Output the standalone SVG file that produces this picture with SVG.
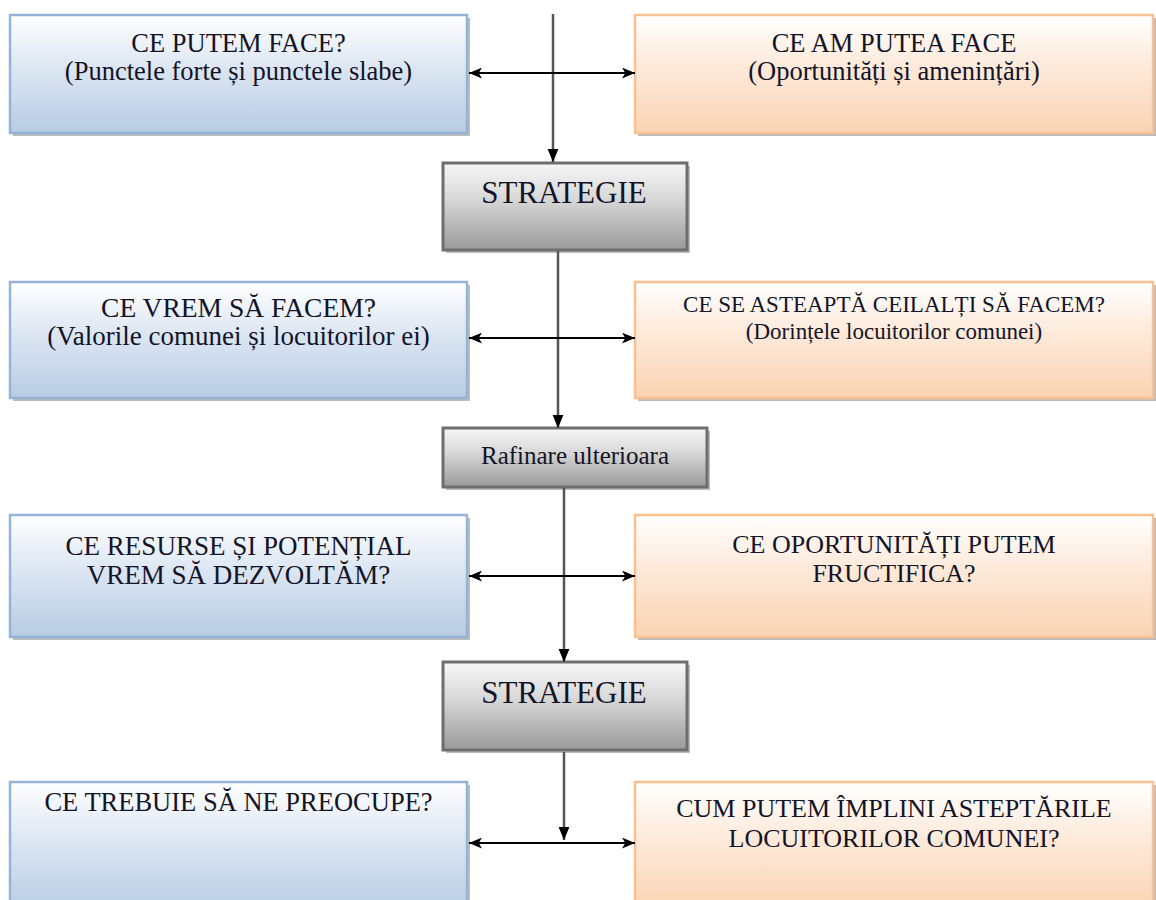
<svg xmlns="http://www.w3.org/2000/svg" width="1156" height="900" viewBox="0 0 1156 900">
<defs>
<linearGradient id="gBlue" x1="0" y1="0" x2="0" y2="1">
<stop offset="0" stop-color="#ffffff"/><stop offset="0.45" stop-color="#dce6f2"/><stop offset="1" stop-color="#b8cce4"/>
</linearGradient>
<linearGradient id="gOrange" x1="0" y1="0" x2="0" y2="1">
<stop offset="0" stop-color="#ffffff"/><stop offset="0.45" stop-color="#fde9d9"/><stop offset="1" stop-color="#fad3b3"/>
</linearGradient>
<linearGradient id="gGray" x1="0" y1="0" x2="0" y2="1">
<stop offset="0" stop-color="#f7f7f7"/><stop offset="0.4" stop-color="#d9d9d9"/><stop offset="1" stop-color="#9a9a9a"/>
</linearGradient>
<marker id="ah" viewBox="0 0 12 10" refX="12" refY="5" markerWidth="13" markerHeight="11" markerUnits="userSpaceOnUse" orient="auto-start-reverse">
<path d="M0,0 L12,5 L0,10 L3,5 Z" fill="#000"/>
</marker>
<marker id="ad" viewBox="0 0 12 10" refX="12" refY="5" markerWidth="13" markerHeight="12" markerUnits="userSpaceOnUse" orient="auto">
<path d="M0,0 L12,5 L0,10 Z" fill="#000"/>
</marker>
</defs>
<style>
.shadow{fill:#a6a6a6;opacity:0.75}
.blue{fill:url(#gBlue);stroke:#95b3d7;stroke-width:2.5}
.orange{fill:url(#gOrange);stroke:#fac090;stroke-width:2.5}
.gray{fill:url(#gGray);stroke:#6e6e6e;stroke-width:3}
text{font-family:"Liberation Serif","Times New Roman",serif;fill:#141428;text-anchor:middle}
.t{font-size:26.5px}
.ts{font-size:23px}
.big{font-size:31px}
.raf{font-size:25px}
.h{fill:none;stroke:#000;stroke-width:2}
.v{fill:none;stroke:#555;stroke-width:2.5}
</style>
<rect width="1156" height="900" fill="#fff"/>

<g id="n1">
<rect class="shadow" x="13" y="18" width="457" height="118"/>
<rect class="blue" x="10" y="15" width="457" height="118"/>
<text class="t" x="238.5" y="52">CE PUTEM FACE?</text>
<text class="t" x="238.5" y="80">(Punctele forte și punctele slabe)</text>
</g>
<g id="n2">
<rect class="shadow" x="638" y="18" width="518" height="118"/>
<rect class="orange" x="635" y="15" width="518" height="118"/>
<text class="t" x="894" y="52">CE AM PUTEA FACE</text>
<text class="t" x="894" y="80">(Oportunități și amenințări)</text>
</g>
<g id="n3">
<rect class="shadow" x="446" y="166" width="244" height="87"/>
<rect class="gray" x="443" y="163" width="244" height="87"/>
<text class="big" x="564" y="203">STRATEGIE</text>
</g>
<g id="n4">
<rect class="shadow" x="13" y="285" width="457" height="116"/>
<rect class="blue" x="10" y="282" width="457" height="116"/>
<text class="t" x="238.5" y="317" style="font-size:27.5px">CE VREM SĂ FACEM?</text>
<text class="t" x="238.5" y="345" style="font-size:27px">(Valorile comunei și locuitorilor ei)</text>
</g>
<g id="n5">
<rect class="shadow" x="638" y="285" width="518" height="116"/>
<rect class="orange" x="635" y="282" width="518" height="116"/>
<text class="ts" x="894" y="312">CE SE ASTEAPTĂ CEILALȚI SĂ FACEM?</text>
<text class="ts" x="894" y="339">(Dorințele locuitorilor comunei)</text>
</g>
<g id="n6">
<rect class="shadow" x="446" y="431" width="264" height="59"/>
<rect class="gray" x="443" y="428" width="264" height="59"/>
<text class="raf" x="575" y="464">Rafinare ulterioara</text>
</g>
<g id="n7">
<rect class="shadow" x="13" y="518" width="457" height="122"/>
<rect class="blue" x="10" y="515" width="457" height="122"/>
<text class="t" x="238.5" y="555" style="font-size:27px">CE RESURSE ȘI POTENȚIAL</text>
<text class="t" x="238.5" y="584" style="font-size:27px">VREM SĂ DEZVOLTĂM?</text>
</g>
<g id="n8">
<rect class="shadow" x="638" y="518" width="518" height="122"/>
<rect class="orange" x="635" y="515" width="518" height="122"/>
<text class="t" x="894" y="553" style="font-size:26px">CE OPORTUNITĂȚI PUTEM</text>
<text class="t" x="894" y="582" style="font-size:26px">FRUCTIFICA?</text>
</g>
<g id="n9">
<rect class="shadow" x="446" y="665" width="244" height="88"/>
<rect class="gray" x="443" y="662" width="244" height="88"/>
<text class="big" x="564" y="703">STRATEGIE</text>
</g>
<g id="n10">
<rect class="shadow" x="13" y="785" width="457" height="130"/>
<rect class="blue" x="10" y="782" width="457" height="130"/>
<text class="t" x="238.5" y="811">CE TREBUIE SĂ NE PREOCUPE?</text>
</g>
<g id="n11">
<rect class="shadow" x="638" y="785" width="518" height="130"/>
<rect class="orange" x="635" y="782" width="518" height="130"/>
<text class="t" x="894" y="817" style="font-size:26px">CUM PUTEM ÎMPLINI ASTEPTĂRILE</text>
<text class="t" x="894" y="847" style="font-size:26px">LOCUITORILOR COMUNEI?</text>
</g>

<g id="connectors">
<path class="v" d="M553,14 V162" marker-end="url(#ad)"/>
<path class="h" d="M469,73 H635" marker-start="url(#ah)" marker-end="url(#ah)"/>
<path class="v" d="M558,251 V428" marker-end="url(#ad)"/>
<path class="h" d="M469,338 H635" marker-start="url(#ah)" marker-end="url(#ah)"/>
<path class="v" d="M564,488 V662" marker-end="url(#ad)"/>
<path class="h" d="M469,576 H635" marker-start="url(#ah)" marker-end="url(#ah)"/>
<path class="v" d="M564,752 V840" marker-end="url(#ad)"/>
<path class="h" d="M469,843 H635" marker-start="url(#ah)" marker-end="url(#ah)"/>
</g>
</svg>
